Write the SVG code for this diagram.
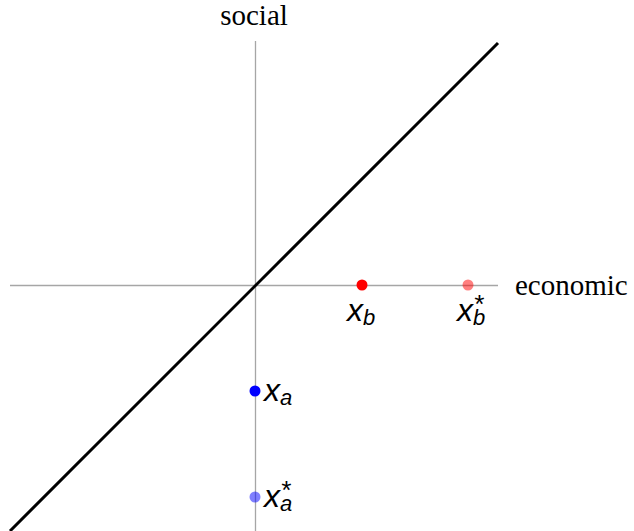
<svg xmlns="http://www.w3.org/2000/svg" width="634" height="531" viewBox="0 0 634 531">
<style>
.axis{stroke:#a6a6a6;stroke-width:1.3;fill:none}
.lbl{font-family:"Liberation Serif",serif;font-size:29px;fill:#000}
.m{font-family:"Liberation Sans",Arial,sans-serif;font-style:italic;font-size:32px;fill:#000}
.sub{font-size:22px}
.st{font-size:26px}
</style>
<rect width="634" height="531" fill="#fff"/>
<g id="connectors">
<line class="axis" x1="255.5" y1="41" x2="255.5" y2="531"/>
<line class="axis" x1="10" y1="285.5" x2="498" y2="285.5"/>
<line x1="10" y1="531" x2="498" y2="43" stroke="#000" stroke-width="3"/>
</g>
<g id="social"><text class="lbl" x="254" y="25" text-anchor="middle">social</text></g>
<g id="economic"><text class="lbl" x="515" y="295">economic</text></g>
<g id="xb"><circle cx="362" cy="285" r="5.5" fill="#f00"/><text class="m" x="347" y="321">x<tspan class="sub" dy="4">b</tspan></text></g>
<g id="xbstar"><circle cx="468" cy="285" r="5.5" fill="#f00" fill-opacity="0.5"/><text class="m" x="457" y="321">x<tspan class="sub" dy="4">b</tspan><tspan class="st" dx="-12" dy="-12">*</tspan></text></g>
<g id="xa"><circle cx="255" cy="391" r="5.5" fill="#00f"/><text class="m" x="264" y="401">x<tspan class="sub" dy="4">a</tspan></text></g>
<g id="xastar"><circle cx="255" cy="497" r="5.5" fill="#00f" fill-opacity="0.5"/><text class="m" x="264" y="507">x<tspan class="sub" dy="4">a</tspan><tspan class="st" dx="-12" dy="-12">*</tspan></text></g>
</svg>
